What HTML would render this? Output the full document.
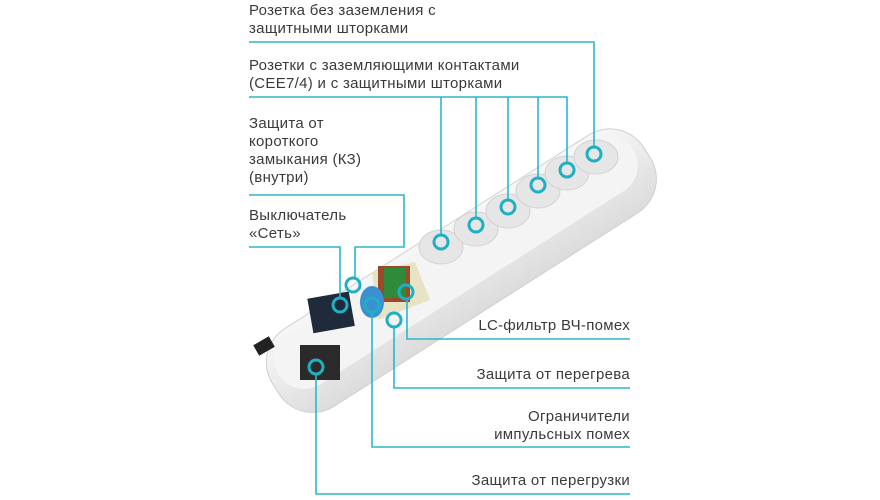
<!DOCTYPE html>
<html><head><meta charset="utf-8"><style>
body{margin:0;width:880px;height:500px;background:#fff;overflow:hidden;position:relative;font-family:"Liberation Sans",sans-serif;}
.t{position:absolute;font-size:15px;line-height:18px;color:#3a3a3a;letter-spacing:0.3px;}
.r{text-align:right;right:250px;}
</style></head><body>
<svg width="880" height="500" style="position:absolute;left:0;top:0">
<defs><linearGradient id="g" x1="0" y1="0" x2="0" y2="1"><stop offset="0" stop-color="#f7f7f7"/><stop offset="1" stop-color="#dcdcdc"/></linearGradient></defs>
<g transform="translate(455,270) rotate(-32.5)">
<rect x="-215" y="-42" width="440" height="92" rx="40" fill="url(#g)" stroke="#d0d0d0"/>
<rect x="-205" y="-36" width="420" height="60" rx="30" fill="#f4f4f4"/>
</g>
<g fill="#e6e6e6" stroke="#d2d2d2">
<ellipse cx="441" cy="247" rx="22" ry="17"/><ellipse cx="476" cy="229" rx="22" ry="17"/>
<ellipse cx="508" cy="211" rx="22" ry="17"/><ellipse cx="538" cy="191" rx="22" ry="17"/>
<ellipse cx="567" cy="173" rx="22" ry="17"/><ellipse cx="596" cy="157" rx="22" ry="17"/>
</g>
<polygon points="372,272 415,262 430,300 378,320" fill="#e9e3c6"/>
<rect x="378" y="266" width="32" height="36" fill="#9a4a2a"/>
<rect x="384" y="268" width="22" height="30" fill="#2f8a3a"/>
<rect x="310" y="295" width="42" height="35" fill="#1f2a3a" transform="rotate(-10 330 312)"/>
<rect x="300" y="345" width="40" height="35" fill="#2a2a2a"/>
<ellipse cx="372" cy="302" rx="12" ry="16" fill="#3c8fd0"/>
<rect x="255" y="340" width="18" height="12" fill="#222" transform="rotate(-30 264 346)"/>
<g fill="none" stroke="#2bb7c9" stroke-width="1.6">
<polyline points="249,42 594,42 594,148"/>
<polyline points="249,97 567,97 567,164"/>
<polyline points="441,97 441,236"/><polyline points="476,97 476,219"/>
<polyline points="508,97 508,201"/><polyline points="538,97 538,179"/>
<polyline points="249,195 404,195 404,247 355,247 355,278"/>
<polyline points="249,247 340,247 340,299"/>
<polyline points="630,339 407,339 407,299"/>
<polyline points="630,388 394,388 394,327"/>
<polyline points="630,447 372,447 372,312"/>
<polyline points="630,494 316,494 316,373"/>
</g>
<g fill="none" stroke="#1fb0c4" stroke-width="3">
<circle cx="594" cy="154" r="7"/><circle cx="567" cy="170" r="7"/>
<circle cx="538" cy="185" r="7"/><circle cx="508" cy="207" r="7"/>
<circle cx="476" cy="225" r="7"/><circle cx="441" cy="242" r="7"/>
<circle cx="353" cy="285" r="7"/><circle cx="340" cy="305" r="7"/>
<circle cx="406" cy="292" r="7"/><circle cx="394" cy="320" r="7"/>
<circle cx="372" cy="305" r="7"/><circle cx="316" cy="367" r="7"/>
</g>
</svg>
<div class="t" style="left:249px;top:2px">Розетка без заземления с<br>защитными шторками</div>
<div class="t" style="left:249px;top:57px">Розетки с заземляющими контактами<br>(CEE7/4) и с защитными шторками</div>
<div class="t" style="left:249px;top:115px">Защита от<br>короткого<br>замыкания (КЗ)<br>(внутри)</div>
<div class="t" style="left:249px;top:207px">Выключатель<br>«Сеть»</div>
<div class="t r" style="top:317px">LC-фильтр ВЧ-помех</div>
<div class="t r" style="top:366px">Защита от перегрева</div>
<div class="t r" style="top:408px">Ограничители<br>импульсных помех</div>
<div class="t r" style="top:472px">Защита от перегрузки</div>
</body></html>
